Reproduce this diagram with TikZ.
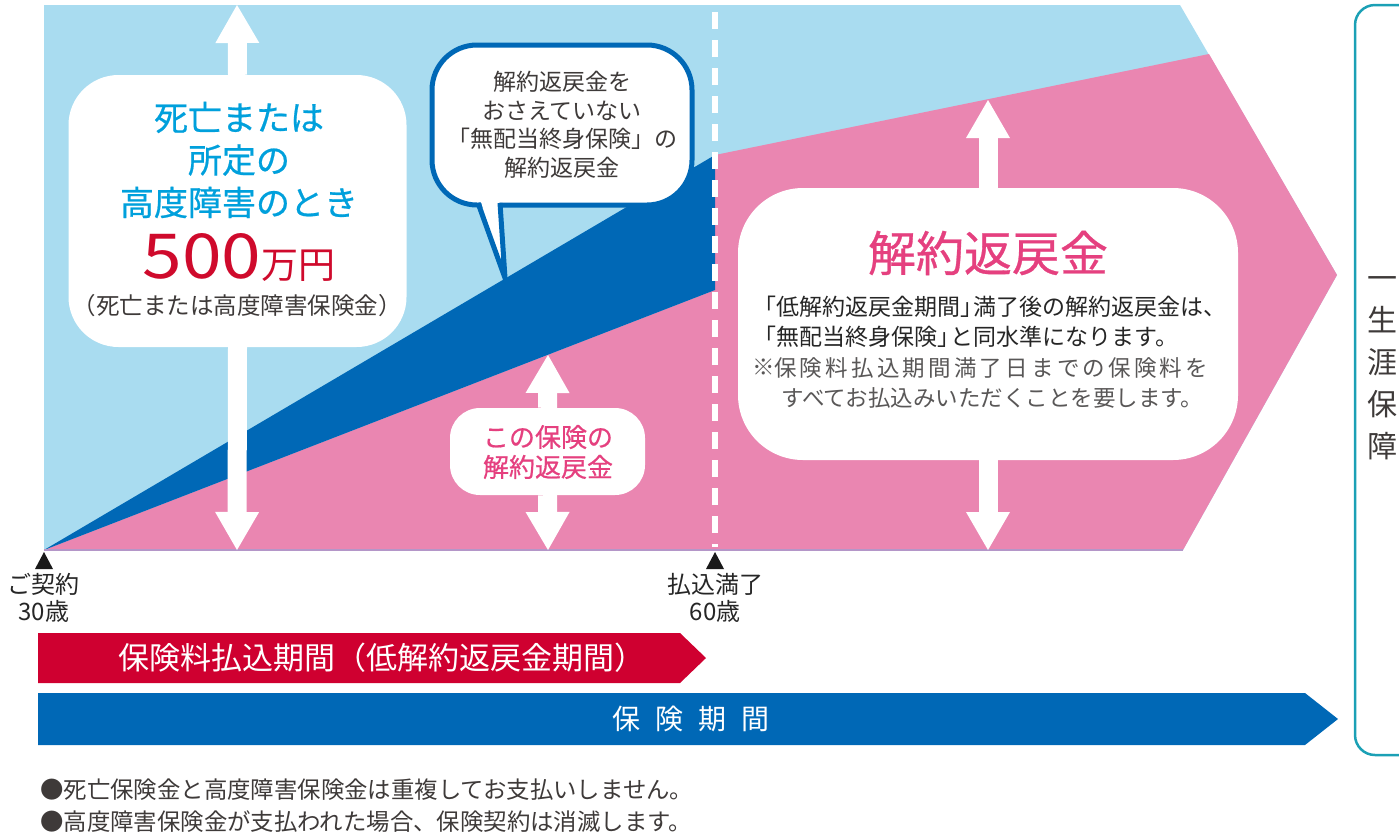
\documentclass[tikz,border=0pt]{standalone}
\usepackage{graphicx}
\usepackage{fontspec}
\setmainfont{Noto Sans CJK JP}
\newfontfamily\cjkmed[FakeBold=0.6]{Noto Sans CJK JP}
\usetikzlibrary{arrows.meta}
\definecolor{skyb}{HTML}{A9DCF0}
\definecolor{pinkf}{HTML}{EA86B1}
\definecolor{navy}{HTML}{0068B6}
\definecolor{cyant}{HTML}{00A0DC}
\definecolor{redt}{HTML}{CF0A2C}
\definecolor{pinkt}{HTML}{E5407F}
\definecolor{grayt}{HTML}{3E3A39}
\definecolor{grayn}{HTML}{595757}
\definecolor{tealb}{HTML}{1BA0B5}
\definecolor{redbar}{HTML}{CF0030}
\definecolor{baseln}{HTML}{B496C8}
\newcommand{\lkak}{\makebox[0.55em][r]{「}}
\newcommand{\rkak}{\makebox[0.55em][l]{」}}
\begin{document}
\begin{tikzpicture}[x=1pt,y=-1pt,
  wbox/.style={fill=white, draw=none, rounded corners=#1, inner sep=0pt},
  warrow/.style={draw=white, line width=19pt, -{Triangle[width=44pt,length=38pt,line width=0pt]}},
  bubblebox/.style={fill=white, draw=navy, line width=5pt, rounded corners=45pt, inner sep=0pt,
     minimum width=260pt, minimum height=160pt, align=center, text=grayt,
     font=\fontsize{23}{28.5}\selectfont},
  plain/.style={inner sep=0pt, text=grayt},
  notefont/.style={plain, text=grayn, font=\fontsize{22.5}{30}\selectfont},
]
\useasboundingbox (0,0) rectangle (1399,836);

% ---- chart regions
\fill[skyb] (44,5) -- (1180,5) -- (1337,275) -- (1183,550) -- (44,550) -- cycle;
\fill[pinkf] (44,550) -- (715,290) -- (715,155) -- (1209,54) -- (1337,275) -- (1183,550) -- cycle;
\fill[navy] (44,550) -- (715,155) -- (715,290) -- cycle;
\draw[baseln, line width=1.3pt] (44,550) -- (1183,550);

% dashed divider
\coordinate (dtop) at (715,12);
\coordinate (dbot) at (715,547);
\draw[white, line width=6pt, dash pattern=on 17pt off 11pt] (dtop) -- (dbot);

% ---- boxes
\node[wbox=50pt, minimum width=338pt, minimum height=272pt] (lbox) at (237.5,211) {};
\node[wbox=30pt, minimum width=195pt, minimum height=87pt] (mbox) at (547.5,451.5) {};
\node[wbox=65pt, minimum width=500pt, minimum height=272pt] (rbox) at (988,324) {};

% ---- arrows
\coordinate (ltop) at (237,5);
\coordinate (lbot) at (237,550);
\coordinate (mtop) at (548,355);
\coordinate (mbot) at (548,550);
\coordinate (rtop) at (988,100);
\coordinate (rbot) at (988,550);
\draw[warrow] (lbox.north) -- (ltop);
\draw[warrow] (lbox.south) -- (lbot);
\draw[warrow] (mbox.north) -- (mtop);
\draw[warrow] (mbox.south) -- (mbot);
\draw[warrow] (rbox.north) -- (rtop);
\draw[warrow] (rbox.south) -- (rbot);

% ---- speech bubble
\node[bubblebox] (bub) at (562,125) {解約返戻金を\\おさえていない\\「無配当終身保険」の\\解約返戻金};
\coordinate (tailtip) at (505,278);
\fill[white] (480,199) -- (tailtip) -- (499,199) -- cycle;
\draw[navy, line width=5pt, line join=miter] (478,203) -- (tailtip) -- (500,203);

% ---- left box texts
\node[plain, text=cyant, align=center, font=\cjkmed\fontsize{34}{42.5}\selectfont] (lhead) at (239,160) {死亡または\\所定の\\高度障害のとき};
\node[plain, text=redt] (lamt) at (239,258) {\fontsize{62}{62}\selectfont\scalebox{1.15}[1]{500}\fontsize{37}{37}\selectfont 万円};
\node[plain, font=\fontsize{23.5}{23.5}\selectfont] (lsub) at (237,306) {（死亡または高度障害保険金）};

% ---- middle box text
\node[plain, text=pinkt, align=center, font=\cjkmed\fontsize{26}{30}\selectfont] (mtext) at (548,452) {この保険の\\解約返戻金};

% ---- right box texts
\node[plain, text=pinkt, font=\cjkmed\fontsize{48}{48}\selectfont] (rtitle) at (988,253) {解約返戻金};
\node[plain, anchor=west, align=left, text=black!85, font=\fontsize{23}{30}\selectfont] (rtext) at (764,322)
 {\lkak 低解約返戻金期間\rkak 満了後の解約返戻金は、\\\lkak 無配当終身保険\rkak と同水準になります。};
\node[notefont] (kome) at (764,367.5) {※};
\node[notefont, anchor=west] (rnote) at (774,367.5)
 {\makebox[434pt][s]{保\hfill 険\hfill 料\hfill 払\hfill 込\hfill 期\hfill 間\hfill 満\hfill 了\hfill 日\hfill ま\hfill で\hfill の\hfill 保\hfill 険\hfill 料\hfill を}};
\node[notefont, anchor=west] (rnote2) at (781,397.5) {すべてお払込みいただくことを要します。};

% ---- markers
\fill[black!90] (35,569) -- (44,552) -- (53,569) -- cycle;
\fill[black!90] (706,569) -- (715,552) -- (724,569) -- cycle;
\node[plain, align=center, text=black!85, font=\fontsize{24}{27}\selectfont] (age30) at (44,598) {ご契約\\30歳};
\node[plain, align=center, text=black!85, font=\fontsize{24}{27}\selectfont] (age60) at (715,598) {払込満了\\60歳};

% ---- period bars
\fill[redbar] (38,633) -- (680,633) -- (706,658) -- (680,683) -- (38,683) -- cycle;
\node[plain, anchor=west, text=white, font=\fontsize{31}{31}\selectfont] (pbar) at (118,658) {保険料払込期間（低解約返戻金期間）};
\fill[navy] (38,693) -- (1305,693) -- (1338,719) -- (1305,745) -- (38,745) -- cycle;
\node[plain, text=white, font=\fontsize{28}{28}\selectfont] (cbar) at (691,719) {保\hspace{15pt}険\hspace{15pt}期\hspace{15pt}間};

% ---- right frame
\begin{scope}
\clip (0,0) rectangle (1399,836);
\draw[tealb, line width=2.5pt, rounded corners=20pt] (1355,5) rectangle (1440,755);
\end{scope}
\node[plain, align=center, font=\fontsize{30}{42}\selectfont] (life) at (1382,368) {一\\生\\涯\\保\\障};

% ---- notes
\node[plain, anchor=west, align=left, font=\fontsize{23.4}{32}\selectfont] (notes) at (40,806)
 {●死亡保険金と高度障害保険金は重複してお支払いしません。\\●高度障害保険金が支払われた場合、保険契約は消滅します。};
\end{tikzpicture}
\end{document}
